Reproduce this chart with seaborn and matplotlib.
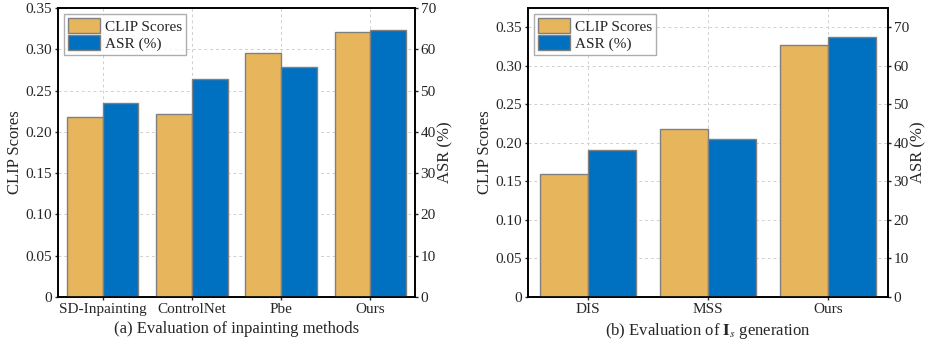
import matplotlib
matplotlib.use("Agg")
import matplotlib.pyplot as plt
import seaborn as sns
import pandas as pd
import numpy as np

# ===============================
# DATA
# ===============================
methods_a = ["SD-Inpainting", "ControlNet", "Pbe", "Ours"]
clip_a = [0.218, 0.222, 0.295, 0.321]
asr_a = [46.9, 52.8, 55.8, 64.7]

methods_b = ["DIS", "MSS", "Ours"]
clip_b = [0.160, 0.218, 0.327]
asr_b = [38.1, 41.1, 67.5]

GOLD = "#E6B55C"
BLUE = "#0070C0"
EDGE = "#808080"

sns.set_theme(style="ticks")
plt.rcParams["font.family"] = ["Liberation Serif", "DejaVu Serif"]
plt.rcParams["mathtext.fontset"] = "stix"
plt.rcParams["font.size"] = 11


def draw_panel(ax, methods, clip, asr, clip_max, asr_max, clip_ticks, asr_ticks, xlabel):
    # both series are drawn on the left axis, ASR rescaled onto the CLIP scale
    scale = clip_max / asr_max
    df = pd.DataFrame({
        "method": methods * 2,
        "series": ["CLIP Scores"] * len(methods) + ["ASR (%)"] * len(methods),
        "value": list(clip) + [v * scale for v in asr],
    })
    sns.barplot(data=df, x="method", y="value", hue="series",
                palette=[GOLD, BLUE], width=0.8, edgecolor=EDGE, linewidth=1.0,
                saturation=1, ax=ax, zorder=3)
    ax.set_xlim(-0.5, len(methods) - 0.5)
    ax.set_ylim(0, clip_max)
    ax.set_yticks(clip_ticks)
    ax.set_yticklabels(["0"] + [f"{t:.2f}" for t in clip_ticks[1:]])
    ax.set_ylabel("CLIP Scores", fontsize=12, labelpad=2)
    ax.set_xlabel(xlabel, fontsize=12, labelpad=4)
    ax.grid(True, linestyle=(0, (3, 3)), color="#D0D0D0", linewidth=0.7, zorder=0)
    ax.set_axisbelow(True)
    ax.tick_params(direction="out", length=2.5, width=1, labelsize=11, pad=1.5)
    for s in ax.spines.values():
        s.set_linewidth(1.2)
        s.set_color("black")

    ax2 = ax.twinx()
    ax2.set_ylim(0, asr_max)
    ax2.set_yticks(asr_ticks)
    ax2.set_ylabel("ASR (%)", fontsize=12, labelpad=1)
    ax2.tick_params(direction="out", length=2.5, width=1, labelsize=11, pad=1.5)
    for s in ax2.spines.values():
        s.set_linewidth(1.2)
        s.set_color("black")

    leg = ax.legend(loc="upper left", frameon=True, fancybox=False, fontsize=11,
                    handlelength=2.1, handleheight=1.15, borderpad=0.25,
                    labelspacing=0.1, handletextpad=0.35, borderaxespad=0.4)
    leg.get_frame().set_edgecolor("#999999")
    leg.get_frame().set_linewidth(1.0)


fig = plt.figure(figsize=(9.28, 3.47), dpi=100)
ax_a = fig.add_axes([58 / 928, 50 / 347, 357 / 928, 289 / 347])
ax_b = fig.add_axes([528 / 928, 50 / 347, 360 / 928, 289 / 347])

draw_panel(ax_a, methods_a, clip_a, asr_a, 0.35, 70,
           [0, 0.05, 0.10, 0.15, 0.20, 0.25, 0.30, 0.35],
           [0, 10, 20, 30, 40, 50, 60, 70],
           "(a) Evaluation of inpainting methods")
draw_panel(ax_b, methods_b, clip_b, asr_b, 0.375, 75,
           [0, 0.05, 0.10, 0.15, 0.20, 0.25, 0.30, 0.35],
           [0, 10, 20, 30, 40, 50, 60, 70],
           r"(b) Evaluation of $\mathbf{I}_s$ generation")

fig.savefig("out.png", dpi=100)
